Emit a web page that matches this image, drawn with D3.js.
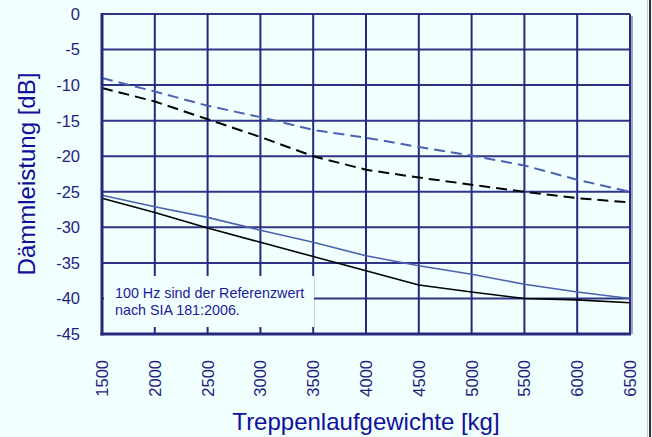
<!DOCTYPE html>
<html><head><meta charset="utf-8">
<script src="https://cdn.jsdelivr.net/npm/d3@7"></script>
<style>
html,body{margin:0;padding:0;background:#F2FFFF;}
svg{display:block;font-family:"Liberation Sans",Arial,sans-serif;}
</style></head><body>
<svg id="c" width="652" height="437"></svg>
<script>
const weights = [1500,2000,2500,3000,3500,4000,4500,5000,5500,6000,6500];
const blueDashed  = [-9.0,-10.9,-12.9,-14.5,-16.3,-17.4,-18.7,-19.9,-21.3,-23.3,-25.0];
const blackDashed = [-10.4,-12.3,-14.8,-17.3,-20.0,-21.9,-23.0,-24.0,-25.0,-25.9,-26.5];
const blueSolid   = [-25.5,-27.1,-28.6,-30.4,-32.1,-34.0,-35.4,-36.6,-38.0,-39.1,-40.0];
const blackSolid  = [-25.9,-27.9,-30.1,-32.1,-34.1,-36.1,-38.1,-39.1,-40.0,-40.2,-40.6];
const yTicks = [0,-5,-10,-15,-20,-25,-30,-35,-40,-45];
const xLabel = "Treppenlaufgewichte [kg]";
const yLabel = "Dämmleistung [dB]";
const noteLines = ["100 Hz sind der Referenzwert","nach SIA 181:2006."];

const svg = d3.select("#c");
const L=102, R=630, T=14, B=334;
const x = d3.scaleLinear().domain([1500,6500]).range([L,R]);
const y = d3.scaleLinear().domain([0,-45]).range([T,B]);
const navy = "#27287E";
const textCol = "#1E1E80";

// outer right frame
svg.append("line").attr("x1",647.5).attr("x2",647.5).attr("y1",0).attr("y2",437).attr("stroke","#C8CCCC").attr("stroke-width",1);
svg.append("line").attr("x1",650).attr("x2",650).attr("y1",0).attr("y2",437).attr("stroke","#333").attr("stroke-width",2);

// shadow of plot frame
svg.append("line").attr("x1",R+2).attr("x2",R+2).attr("y1",T+2).attr("y2",B).attr("stroke","#7F86C0").attr("stroke-width",1.5);

// grid
const g = svg.append("g");
g.selectAll("line.h").data(yTicks).join("line")
 .attr("x1",L).attr("x2",R).attr("y1",d=>y(d)).attr("y2",d=>y(d))
 .attr("stroke","#2E3486").attr("stroke-width",2);
g.selectAll("line.v").data(weights).join("line")
 .attr("y1",T).attr("y2",B).attr("x1",d=>x(d)).attr("x2",d=>x(d))
 .attr("stroke",navy).attr("stroke-width",2);

// lines
const line = d3.line().x((d,i)=>x(weights[i])).y(d=>y(d));
const series = [
 {v:blueSolid, c:"#4A62B0", w:1.6, dash:null},
 {v:blackSolid, c:"#000", w:1.6, dash:null},
 {v:blueDashed, c:"#4A62B0", w:2, dash:"11,6"},
 {v:blackDashed, c:"#000", w:2, dash:"11,6"}
];
series.forEach(s=>{
 svg.append("path").attr("d",line(s.v)).attr("fill","none")
  .attr("stroke",s.c).attr("stroke-width",s.w)
  .attr("stroke-dasharray",s.dash);
});

// note box
svg.append("rect").attr("x",104).attr("y",276).attr("width",210).attr("height",51).attr("fill","#F2FFFF");
svg.append("text").attr("x",115).attr("y",298).attr("font-size",14.3).attr("fill","#1A1A9A")
 .selectAll("tspan").data(noteLines).join("tspan").attr("x",115).attr("dy",(d,i)=>i?17:0).text(d=>d);

// plot frame: left & bottom thick
svg.append("line").attr("x1",L).attr("x2",L).attr("y1",T-1).attr("y2",B+1.5).attr("stroke",navy).attr("stroke-width",3);
svg.append("line").attr("x1",L-1.5).attr("x2",R+1).attr("y1",B).attr("y2",B).attr("stroke",navy).attr("stroke-width",3);

// y ticks labels
svg.selectAll("text.yt").data(yTicks).join("text")
 .attr("x",80).attr("y",d=>y(d)).attr("dy","0.36em").attr("text-anchor","end")
 .attr("font-size",16.5).attr("fill",textCol).text(d=>d);

// x tick labels
svg.selectAll("text.xt").data(weights).join("text")
 .attr("transform",d=>`translate(${x(d)},360) rotate(-90)`)
 .attr("dy","0.36em").attr("text-anchor","end")
 .attr("font-size",16.5).attr("fill",textCol).text(d=>d);

// axis titles
svg.append("text").attr("x",(L+R)/2).attr("y",430).attr("text-anchor","middle")
 .attr("font-size",24).attr("fill","#10109A").text(xLabel);
svg.append("text").attr("transform",`translate(35,${(T+B)/2}) rotate(-90)`).attr("text-anchor","middle")
 .attr("font-size",24).attr("fill","#10109A").text(yLabel);
</script>
</body></html>
